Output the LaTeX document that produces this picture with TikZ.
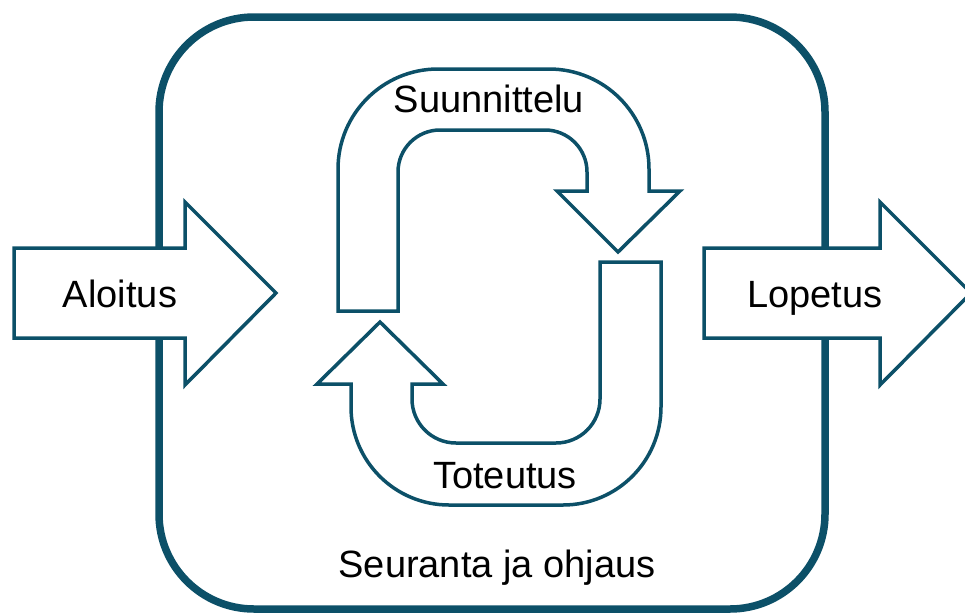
\documentclass[tikz,border=0pt]{standalone}
\usepackage{fontspec}
\setmainfont{Liberation Sans}
\definecolor{teal1}{RGB}{12,80,104}
\begin{document}
\begin{tikzpicture}[x=1pt,y=1pt,
  shapeline/.style={draw=teal1,line width=3.5pt,fill=white,line join=miter},
  lbl/.style={anchor=base,inner sep=0pt,font=\fontsize{38}{44}\selectfont,text=black}]
\clip (0,0) rectangle (965,-613);
% frame
\draw[draw=teal1,line width=7.5pt,rounded corners=95pt] (159,-17) rectangle (825,-609);
% start arrow
\draw[shapeline] (14,-248) -- (185,-248) -- (185,-202) -- (276,-293) -- (185,-385) -- (185,-338) -- (14,-338) -- cycle;
% end arrow
\draw[shapeline] (704,-248) -- (880,-248) -- (880,-202) -- (971,-293) -- (880,-385) -- (880,-338) -- (704,-338) -- cycle;
% upper U-turn arrow
\draw[shapeline] (338,-311) -- (338,-169) arc[start angle=180,end angle=90,radius=100pt]
  -- (549,-69) arc[start angle=90,end angle=0,radius=100pt]
  -- (649,-191) -- (680,-191) -- (618,-252) -- (557,-191) -- (587,-191)
  -- (587,-172) arc[start angle=0,end angle=90,radius=42pt]
  -- (440,-130) arc[start angle=90,end angle=180,radius=42pt]
  -- (398,-311) -- cycle;
% lower U-turn arrow
\draw[shapeline] (600,-262) -- (661,-262) -- (661,-407) arc[start angle=0,end angle=-90,radius=98pt]
  -- (449,-505) arc[start angle=-90,end angle=-180,radius=98pt]
  -- (351,-384) -- (317,-384) -- (380,-322) -- (443,-384) -- (412,-384)
  -- (412,-399) arc[start angle=180,end angle=270,radius=44pt]
  -- (556,-443) arc[start angle=270,end angle=360,radius=44pt]
  -- cycle;
% labels
\node[lbl] (aloitus) at (120,-307) {Aloitus};
\node[lbl] (lopetus) at (815,-307) {Lopetus};
\node[lbl] (suun) at (489,-112) {Suunnittelu};
\node[lbl] (tot) at (505,-488) {Toteutus};
\node[lbl] (seur) at (497,-577) {Seuranta ja ohjaus};
\end{tikzpicture}
\end{document}
